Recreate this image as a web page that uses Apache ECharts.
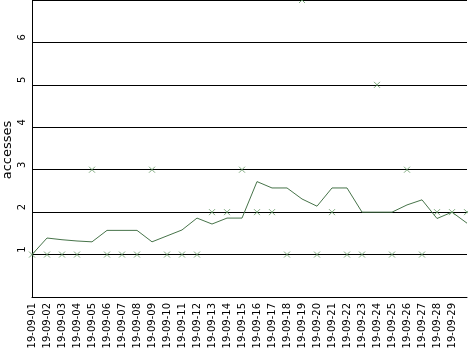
<!DOCTYPE html>
<html>
<head>
<meta charset="utf-8">
<script src="https://cdn.jsdelivr.net/npm/echarts@6/dist/echarts.min.js"></script>
<style>
html,body{margin:0;padding:0;background:#fff;}
#c{width:468px;height:351px;}
</style>
</head>
<body>
<div id="c"></div>
<script>
const dates = ["19-09-01","19-09-02","19-09-03","19-09-04","19-09-05","19-09-06","19-09-07","19-09-08","19-09-09","19-09-10",
"19-09-11","19-09-12","19-09-13","19-09-14","19-09-15","19-09-16","19-09-17","19-09-18","19-09-19","19-09-20",
"19-09-21","19-09-22","19-09-23","19-09-24","19-09-25","19-09-26","19-09-27","19-09-28","19-09-29","19-09-30"];
const accesses = [1,1,1,1,3,1,1,1,3,1,1,1,2,2,3,2,2,1,7,1,2,1,1,5,1,3,1,2,2,2];
const average = [1,1.39,1.35,1.32,1.3,1.57,1.57,1.57,1.3,1.44,1.58,1.86,1.72,1.86,1.86,2.72,2.57,2.57,2.31,2.14,2.57,2.57,2,2,2,2.17,2.29,1.85,2,1.74];
const yTicks = [1,2,3,4,5,6];
const yTitle = 'accesses';

const chart = echarts.init(document.getElementById('c'), null, {renderer:'canvas'});
const font = 'DejaVu Sans';
chart.setOption({
  animation:false,
  backgroundColor:'#ffffff',
  grid:{left:32,right:1,top:0,bottom:54,containLabel:false,outerBoundsMode:'none'},
  graphic:[{type:'text', x:8, y:150, rotation:Math.PI/2,
    style:{text:yTitle, font:'13px "DejaVu Sans"', fill:'#000', align:'center', verticalAlign:'middle'}}],
  xAxis:{
    type:'category', data:dates, boundaryGap:false,
    axisLine:{show:true,lineStyle:{color:'#000',width:1}},
    axisTick:{show:false},
    splitLine:{show:false},
    axisLabel:{rotate:90,fontFamily:font,fontSize:10,color:'#000',margin:6,
      interval:function(i){return i < dates.length-1;}}
  },
  yAxis:{
    type:'value', min:0, max:7, interval:1,
    axisLine:{show:true,lineStyle:{color:'#000',width:1}},
    axisTick:{show:false},
    splitLine:{show:true,lineStyle:{color:'#000',width:1}},
    axisLabel:{rotate:90,fontFamily:font,fontSize:10,color:'#000',margin:5,padding:[0,0,0,10],
      formatter:function(v){return yTicks.indexOf(v)>=0 ? String(v) : '';}}
  },
  series:[
    {type:'line', data:average, symbol:'none', lineStyle:{color:'#47744a',width:1}, z:3},
    {type:'scatter', data:accesses, symbol:'path://M0,0L10,10M10,0L0,10', symbolSize:6,
     itemStyle:{color:'rgba(0,0,0,0)',borderColor:'#5f955f',borderWidth:1}, z:4}
  ]
});
</script>
</body>
</html>
